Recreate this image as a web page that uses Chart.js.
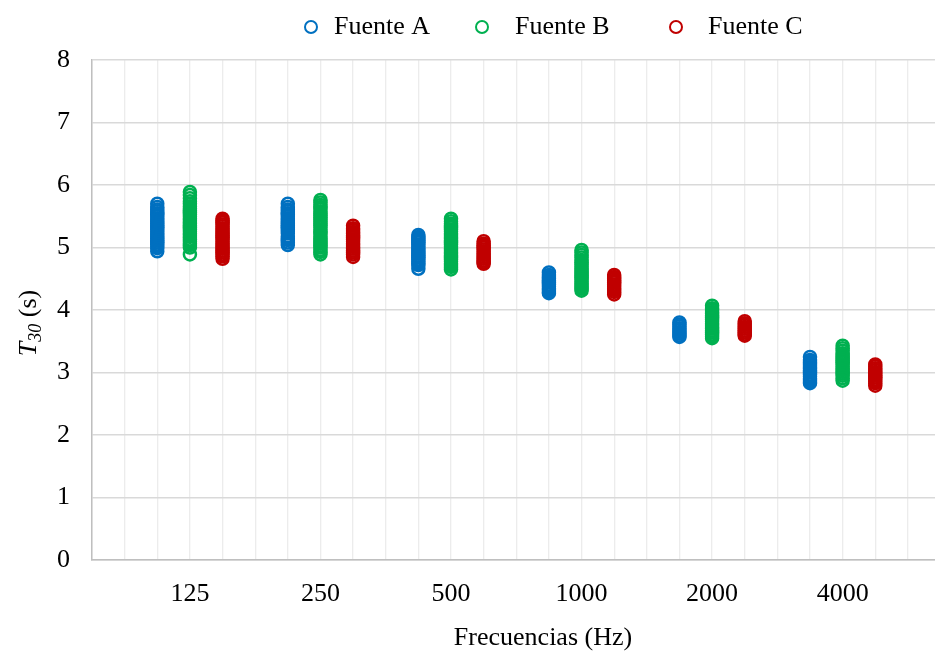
<!DOCTYPE html>
<html>
<head>
<meta charset="utf-8">
<script src="https://cdn.jsdelivr.net/npm/chart.js@4.4.1/dist/chart.umd.min.js"></script>
<style>
  html, body { margin: 0; padding: 0; background: #ffffff; overflow: hidden; }
  #wrap { width: 935px; height: 651px; position: relative; }
  #c { display: block; }
</style>
</head>
<body>
<div id="wrap"><canvas id="c"></canvas></div>
<script>
// Octave bands (Hz)
const bandas = ['125', '250', '500', '1000', '2000', '4000'];

// T30 (s) measured at each receiver position, one list per band
const fuenteA = [
  [5.70, 5.65, 5.61, 5.58, 5.55, 5.53, 5.50, 5.47, 5.44, 5.41, 5.38, 5.35, 5.32, 5.29, 5.26, 5.23, 5.20, 5.17, 5.14, 5.11, 5.08, 5.05, 5.02, 4.99, 4.94],
  [5.70, 5.65, 5.61, 5.58, 5.55, 5.53, 5.50, 5.47, 5.44, 5.41, 5.38, 5.35, 5.32, 5.29, 5.26, 5.23, 5.18, 5.15, 5.12, 5.08, 5.04],
  [5.20, 5.17, 5.14, 5.11, 5.08, 5.05, 5.02, 4.99, 4.96, 4.93, 4.90, 4.87, 4.84, 4.81, 4.78, 4.75, 4.72, 4.66],
  [4.60, 4.56, 4.53, 4.50, 4.47, 4.44, 4.41, 4.38, 4.35, 4.32, 4.29, 4.27],
  [3.80, 3.77, 3.74, 3.71, 3.68, 3.65, 3.62, 3.59, 3.57],
  [3.25, 3.20, 3.17, 3.15, 3.12, 3.09, 3.06, 3.03, 3.00, 2.97, 2.94, 2.91, 2.88, 2.85, 2.83]
];
const fuenteB = [
  [5.89, 5.84, 5.79, 5.74, 5.70, 5.66, 5.62, 5.59, 5.56, 5.53, 5.50, 5.47, 5.44, 5.41, 5.38, 5.35, 5.32, 5.29, 5.26, 5.23, 5.20, 5.17, 5.13, 5.10, 5.07, 5.04, 5.00, 4.89],
  [5.76, 5.72, 5.68, 5.65, 5.62, 5.58, 5.55, 5.52, 5.48, 5.45, 5.42, 5.39, 5.36, 5.32, 5.28, 5.25, 5.22, 5.18, 5.15, 5.12, 5.09, 5.06, 5.03, 5.00, 4.96, 4.93, 4.89],
  [5.46, 5.42, 5.38, 5.35, 5.32, 5.29, 5.26, 5.23, 5.20, 5.17, 5.14, 5.11, 5.08, 5.05, 5.02, 4.99, 4.96, 4.93, 4.90, 4.87, 4.84, 4.81, 4.78, 4.75, 4.72, 4.69, 4.65],
  [4.96, 4.92, 4.88, 4.84, 4.80, 4.76, 4.73, 4.70, 4.67, 4.64, 4.61, 4.58, 4.55, 4.52, 4.49, 4.46, 4.43, 4.40, 4.37, 4.34, 4.31],
  [4.07, 4.03, 4.00, 3.97, 3.94, 3.91, 3.88, 3.85, 3.82, 3.79, 3.76, 3.73, 3.70, 3.67, 3.64, 3.61, 3.58, 3.55],
  [3.43, 3.39, 3.35, 3.31, 3.28, 3.25, 3.22, 3.19, 3.16, 3.13, 3.10, 3.07, 3.04, 3.01, 2.98, 2.95, 2.91, 2.87]
];
const fuenteC = [
  [5.46, 5.43, 5.40, 5.37, 5.34, 5.31, 5.28, 5.25, 5.22, 5.19, 5.16, 5.13, 5.10, 5.07, 5.04, 5.01, 4.98, 4.95, 4.92, 4.89, 4.86, 4.82],
  [5.35, 5.31, 5.28, 5.25, 5.22, 5.19, 5.16, 5.13, 5.10, 5.07, 5.04, 5.01, 4.98, 4.95, 4.92, 4.89, 4.85],
  [5.10, 5.06, 5.03, 5.00, 4.97, 4.94, 4.91, 4.88, 4.85, 4.82, 4.79, 4.76, 4.74],
  [4.56, 4.53, 4.50, 4.47, 4.44, 4.41, 4.38, 4.35, 4.32, 4.29, 4.25],
  [3.82, 3.79, 3.76, 3.73, 3.70, 3.67, 3.64, 3.61, 3.59],
  [3.13, 3.10, 3.07, 3.04, 3.01, 2.98, 2.95, 2.92, 2.89, 2.86, 2.83, 2.79]
];

const fuentes = [
  { nombre: 'Fuente A', valores: fuenteA, color: '#0070C0' },
  { nombre: 'Fuente B', valores: fuenteB, color: '#00B050' },
  { nombre: 'Fuente C', valores: fuenteC, color: '#C00000' }
];

const FONT = '"Liberation Serif", "Times New Roman", serif';

// Each band occupies four slots on the x axis; sources sit side by side, band label on the middle one
function puntos(valores, k) {
  const out = [];
  valores.forEach((lista, i) => {
    lista.forEach(v => out.push({ x: 4 * i + 2 + k, y: v }));
  });
  return out;
}

const datasets = fuentes.map((f, k) => ({
  label: f.nombre,
  data: puntos(f.valores, k),
  borderColor: f.color,
  backgroundColor: 'rgba(0,0,0,0)',
  pointRadius: 6,
  pointBorderWidth: 2.5,
  pointHoverRadius: 6,
  showLine: false
}));

// Legend, axis titles (with T30 subscript) drawn on the canvas
const textos = {
  id: 'textos',
  afterDraw(chart) {
    const ctx = chart.ctx;
    ctx.save();
    // legend
    const marcas = [311, 482, 676];
    const textosX = [334, 515, 708];
    fuentes.forEach((f, k) => {
      ctx.beginPath();
      ctx.lineWidth = 2;
      ctx.strokeStyle = f.color;
      ctx.arc(marcas[k], 27, 6, 0, Math.PI * 2);
      ctx.stroke();
      ctx.fillStyle = '#000';
      ctx.font = '26px ' + FONT;
      ctx.textBaseline = 'alphabetic';
      ctx.textAlign = 'left';
      ctx.fillText(f.nombre, textosX[k], 34);
    });
    // x title
    ctx.font = '26px ' + FONT;
    ctx.textAlign = 'center';
    ctx.fillText('Frecuencias (Hz)', 543, 645);
    // y title: T30 (s)
    ctx.translate(36, 323);
    ctx.rotate(-Math.PI / 2);
    ctx.textAlign = 'left';
    const fT = 'italic 26px ' + FONT;
    const fSub = 'italic 18px ' + FONT;
    const fN = '26px ' + FONT;
    ctx.font = fT; const wT = ctx.measureText('T').width;
    ctx.font = fSub; const wS = ctx.measureText('30').width;
    ctx.font = fN; const wN = ctx.measureText(' (s)').width;
    let x = -(wT + wS + wN) / 2;
    ctx.font = fT; ctx.fillText('T', x, 0); x += wT;
    ctx.font = fSub; ctx.fillText('30', x, 5); x += wS;
    ctx.font = fN; ctx.fillText(' (s)', x, 0);
    ctx.restore();
  }
};

new Chart(document.getElementById('c'), {
  type: 'scatter',
  data: { datasets },
  options: {
    responsive: true,
    maintainAspectRatio: false,
    animation: false,
    events: [],
    layout: { autoPadding: false, padding: { top: 60, left: 0, right: 0, bottom: 0 } },
    plugins: {
      legend: { display: false },
      tooltip: { enabled: false }
    },
    scales: {
      x: {
        type: 'linear',
        min: 0,
        max: 25.83,   // last slot runs past the right edge
        afterBuildTicks(scale) {
          const t = [];
          for (let v = 0; v <= 25; v++) t.push({ value: v });
          scale.ticks = t;
        },
        afterFit(scale) { scale.height = 91; },
        ticks: {
          autoSkip: false,
          maxRotation: 0,
          padding: 19,
          color: '#000',
          font: { family: FONT, size: 26 },
          callback(v) {
            const i = (v - 3) / 4;
            return Number.isInteger(i) && i >= 0 && i < bandas.length ? bandas[i] : '';
          }
        },
        grid: { color: '#ececec', lineWidth: 1.3, drawTicks: false },
        border: { color: '#bfbfbf', width: 1.5 }
      },
      y: {
        min: 0,
        max: 8,
        afterFit(scale) { scale.width = 92; },
        ticks: {
          stepSize: 1,
          padding: 22,
          color: '#000',
          font: { family: FONT, size: 26 }
        },
        grid: { color: '#d9d9d9', lineWidth: 1.5, drawTicks: false },
        border: { color: '#bfbfbf', width: 1.5 }
      }
    }
  },
  plugins: [textos]
});
</script>
</body>
</html>
